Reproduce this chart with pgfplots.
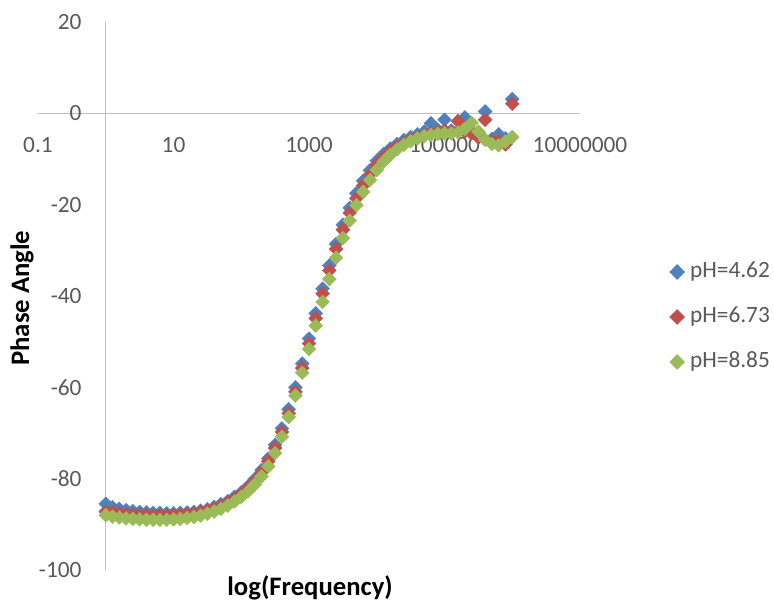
\documentclass[border=0pt]{standalone}
\usepackage{pgfplots}
\pgfplotsset{compat=1.18}
\usepackage{pgfplotstable}
\usepackage{fontspec}
\setmainfont{Carlito}

\definecolor{serA}{HTML}{4F81BD}
\definecolor{serB}{HTML}{C0504D}
\definecolor{serC}{HTML}{9BBB59}
\definecolor{axisgray}{HTML}{BFBFBF}
\definecolor{ticktext}{HTML}{595959}

% frequency (Hz) and phase angle (deg) for the three pH values
\pgfplotstableread{
f        b      r      g
1        -85.5  -87.2  -88.0
1.2589   -86.3  -87.4  -88.3
1.5849   -86.6  -87.6  -88.5
1.9953   -86.9  -87.8  -88.7
2.5119   -87.1  -87.9  -88.8
3.1623   -87.3  -88.0  -88.9
3.9811   -87.4  -88.0  -89.0
5.0119   -87.5  -88.1  -89.0
6.3096   -87.5  -88.0  -89.0
7.9433   -87.6  -88.1  -89.0
10       -87.6  -88.0  -88.9
12.589   -87.5  -87.9  -88.8
15.849   -87.4  -87.8  -88.6
19.953   -87.3  -87.6  -88.4
25.119   -87.0  -87.3  -88.1
31.623   -86.7  -87.0  -87.7
39.811   -86.2  -86.6  -87.2
50.119   -85.6  -86.0  -86.6
63.096   -84.9  -85.3  -85.9
79.433   -84.0  -84.4  -85.0
100      -83.0  -83.4  -84.0
125.89   -81.7  -82.1  -82.8
158.49   -80.1  -80.5  -81.3
199.53   -78.1  -78.6  -79.5
251.19   -75.6  -76.2  -77.3
316.23   -72.6  -73.3  -74.4
398.11   -69.0  -69.8  -70.8
501.19   -64.8  -65.7  -66.5
630.96   -60.0  -61.0  -61.8
794.33   -54.8  -55.8  -56.8
1000     -49.3  -50.4  -51.6
1258.9   -43.8  -44.9  -46.5
1584.9   -38.4  -39.5  -41.3
1995.3   -33.3  -34.4  -36.3
2511.9   -28.6  -29.7  -31.6
3162.3   -24.4  -25.5  -27.3
3981.1   -20.7  -21.8  -23.5
5011.9   -17.5  -18.6  -20.1
6309.6   -14.8  -15.8  -17.2
7943.3   -12.5  -13.4  -14.6
10000    -10.4  -11.2  -12.4
12589    -8.9   -9.6   -10.6
15849    -7.7   -8.3   -9.1
19953    -6.7   -7.3   -7.9
25119    -5.9   -6.5   -6.9
31623    -5.2   -5.8   -6.1
39811    -4.6   -5.2   -5.5
50119    -4.0   -4.7   -5.0
63096    -2.2   -4.3   -4.7
79433    -3.6   -4.0   -4.5
100000   -1.4   -3.8   -4.4
125890   -3.8   -4.0   -4.4
158490   -3.9   -1.7   -4.2
199530   -0.9   -4.0   -3.4
251190   -4.0   -4.4   -2.1
316230   -4.2   -5.3   -4.0
398110    0.4   -1.4   -5.8
501190   -5.6   -6.2   -6.7
630960   -4.6   -6.0   -7.0
794330   -5.5   -6.8   -6.2
1000000   3.1    2.1   -5.2
}\phasedata

\begin{document}
\begin{tikzpicture}
\begin{axis}[
  scale only axis,
  width=542bp, height=548bp,
  xmode=log,
  xmin=0.1, xmax=1e7,
  ymin=-100, ymax=20,
  clip=false,
  axis lines=middle,
  axis line style={draw=axisgray, line width=1.2bp, -},
  every inner x axis line/.append style={-},
  every inner y axis line/.append style={-},
  xtick={0.1,10,1000,100000,10000000},
  xticklabels={0.1,10,1000,100000,10000000},
  minor xtick={},
  ytick={-100,-80,-60,-40,-20,0,20},
  yticklabels={-100,-80,-60,-40,-20,0,20},
  major tick length=0pt,
  hide obscured x ticks=false,
  hide obscured y ticks=false,
  ticklabel style={font=\fontsize{23.4}{28}\selectfont, text=ticktext, inner sep=0pt},
  xticklabel style={anchor=north, yshift=-24bp},
  yticklabel style={anchor=east, xshift=-24bp},
  every axis x label/.style={at={(axis description cs:0.502,-0.046)}, anchor=base,
    font=\bfseries\fontsize{26.8}{30}\selectfont, text=black},
  every axis y label/.style={at={(axis description cs:-0.0295,0.496)}, anchor=center,
    rotate=90, font=\bfseries\fontsize{26.8}{30}\selectfont, text=black},
  xlabel={log(Frequency)},
  ylabel={Phase Angle},
  legend style={draw=none, fill=none, inner sep=0pt,
    at={(axis description cs:1.1651,0.4617)}, anchor=west,
    font=\fontsize{23.4}{28}\selectfont, text=ticktext,
    row sep=24bp,
    nodes={inner sep=0pt, text height=16bp, text depth=5bp},
    /tikz/every odd column/.append style={column sep=5.5bp}},
  legend cell align=left,
  legend image code/.code={\draw[#1, only marks, mark size=5.3bp] plot coordinates {(0bp,0bp)};},
]
\coordinate (plotsw) at (rel axis cs:0,0);
\addplot[only marks, color=serA, mark=square*, mark size=4.9bp,
  mark options={rotate=45, draw=none}] table[x=f, y=b] {\phasedata};
\addlegendentry{pH=4.62}
\addplot[only marks, color=serB, mark=square*, mark size=4.9bp,
  mark options={rotate=45, draw=none}] table[x=f, y=r] {\phasedata};
\addlegendentry{pH=6.73}
\addplot[only marks, color=serC, mark=square*, mark size=4.9bp,
  mark options={rotate=45, draw=none}] table[x=f, y=g] {\phasedata};
\addlegendentry{pH=8.85}
\end{axis}
\pgfresetboundingbox
\path (plotsw) ++(-38bp,-33bp) rectangle ++(774bp,603bp);
\end{tikzpicture}
\end{document}
